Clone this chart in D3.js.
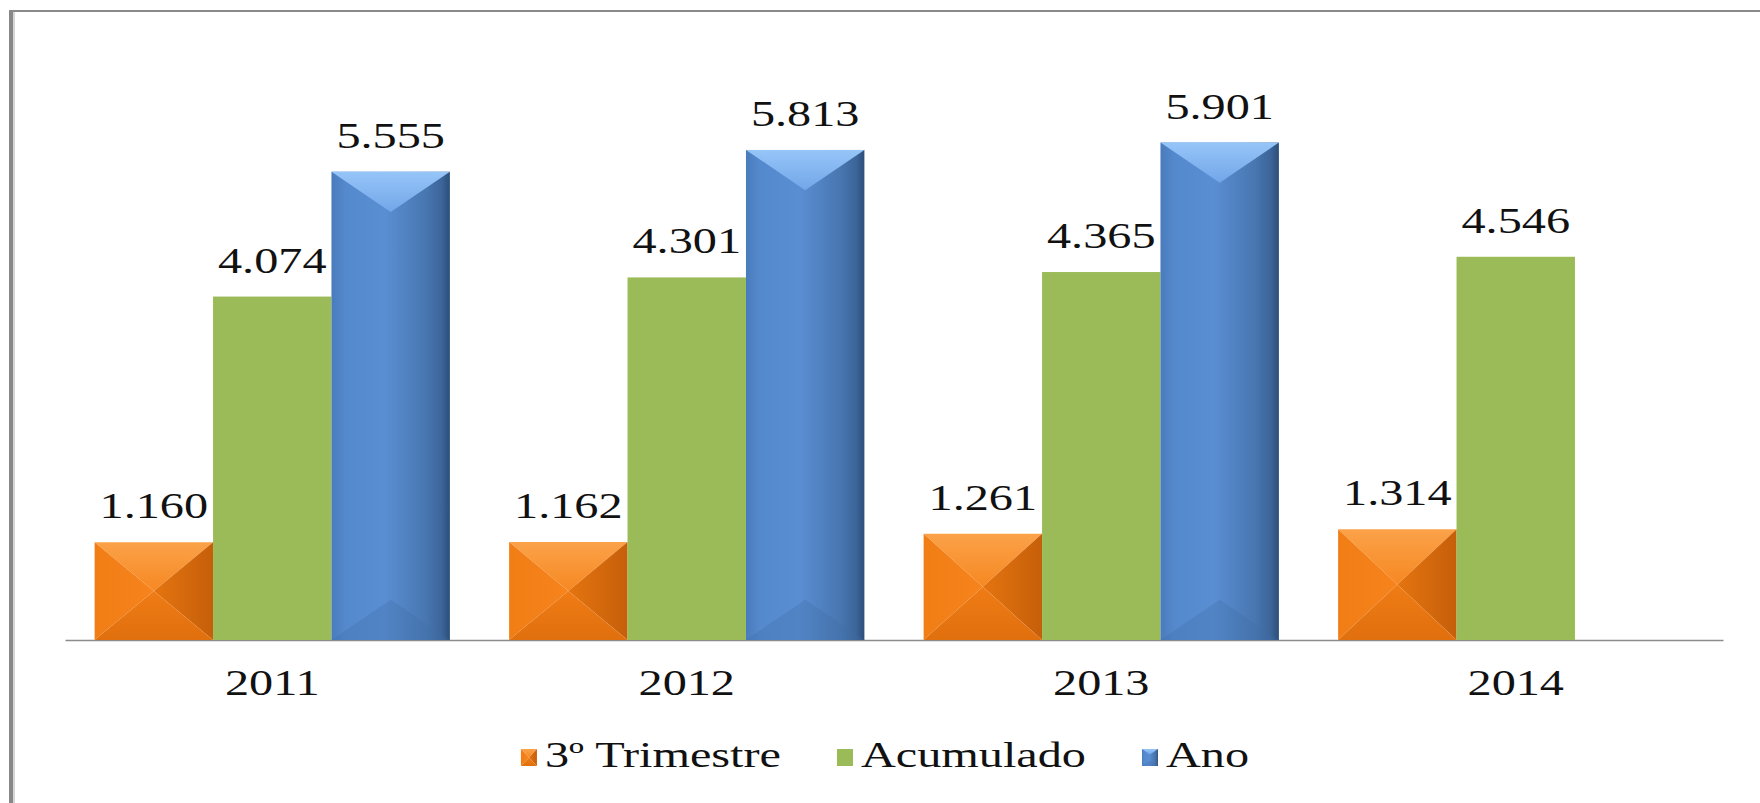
<!DOCTYPE html>
<html>
<head>
<meta charset="utf-8">
<script src="https://cdn.jsdelivr.net/npm/d3@7"></script>
<style>
  body { margin: 0; background: #fff; }
</style>
</head>
<body>
<div id="chart-area"></div>
<script>
// data
const years = ["2011", "2012", "2013", "2014"]
const seriesNames = ["3º Trimestre", "Acumulado", "Ano"]
const trimestre = [1.160, 1.162, 1.261, 1.314]
const acumulado = [4.074, 4.301, 4.365, 4.546]
const ano = [5.555, 5.813, 5.901, null]
const yDomain = [0, 7]

const WIDTH = 1760
const HEIGHT = 803
const BASE = 640
const FONT = "'Liberation Serif'"
const XSCALE = 1.34   // text in the original is stretched horizontally
const fmt = d3.format(".3f")

const svg = d3.select("#chart-area").append("svg")
	.attr("width", WIDTH)
	.attr("height", HEIGHT)

// frame (left + top edges only)
svg.append("rect").attr("x", 9).attr("y", 10).attr("width", 4).attr("height", HEIGHT).attr("fill", "#888")
svg.append("rect").attr("x", 13).attr("y", 10).attr("width", 2).attr("height", HEIGHT).attr("fill", "#d6d6d6")
svg.append("rect").attr("x", 9).attr("y", 10).attr("width", WIDTH).attr("height", 2).attr("fill", "#8a8a8a")

// gradients
const defs = svg.append("defs")
function grad(id, vertical, stops) {
	const lg = defs.append("linearGradient").attr("id", id)
		.attr("x1", 0).attr("y1", 0)
		.attr("x2", vertical ? 0 : 1).attr("y2", vertical ? 1 : 0)
	stops.forEach(s => lg.append("stop").attr("offset", s[0]).attr("stop-color", s[1]))
}
grad("blueBody", false, [[0, "#4a7cbc"], [0.12, "#5489cd"], [0.45, "#5a8ed3"], [0.8, "#4876b0"], [0.93, "#3c6599"], [1, "#2c4e7a"]])
grad("blueTop", true, [[0, "#96c5f8"], [1, "#72a6e8"]])
grad("orTop", true, [[0, "#fba249"], [1, "#f68822"]])
grad("orLeft", false, [[0, "#f17d15"], [1, "#f6831c"]])
grad("orRight", false, [[0, "#e4740f"], [1, "#c65f0a"]])
grad("orBottom", true, [[0, "#ef7c15"], [1, "#e06f0d"]])

// scales
const x0 = d3.scaleBand()
	.domain(years)
	.range([65, 1723])
const x1 = d3.scaleBand()
	.domain(seriesNames)
	.range([0, x0.bandwidth()])
	.paddingOuter(0.25)
const y = d3.scaleLinear()
	.domain(yDomain)
	.range([BASE, BASE - 7 * 84.3])

const rows = []
years.forEach((yr, i) => {
	[trimestre, acumulado, ano].forEach((arr, j) => {
		if (arr[i] != null) rows.push({ year: yr, series: seriesNames[j], value: arr[i] })
	})
})

// draws one bar with the bevel look of the original
function drawBar(g, bx, by, bw, bh, series) {
	if (series === "Acumulado") {
		g.append("rect").attr("x", bx).attr("y", by).attr("width", bw).attr("height", bh).attr("fill", "#9bbb59")
		return
	}
	if (series === "Ano") {
		const d = Math.min(bw * 0.34, bh / 2)
		g.append("rect").attr("x", bx).attr("y", by).attr("width", bw).attr("height", bh).attr("fill", "url(#blueBody)")
		g.append("polygon")
			.attr("points", [[bx, by], [bx + bw, by], [bx + bw / 2, by + d]].join(" "))
			.attr("fill", "url(#blueTop)")
		g.append("polygon")
			.attr("points", [[bx, by + bh], [bx + bw, by + bh], [bx + bw / 2, by + bh - d]].join(" "))
			.attr("fill", "#3f6da6").attr("opacity", 0.3)
		return
	}
	// orange pyramid: four triangles meeting in the centre
	const cx = bx + bw / 2, cy = by + bh / 2
	const tl = [bx, by], tr = [bx + bw, by], bl = [bx, by + bh], br = [bx + bw, by + bh], c = [cx, cy]
	g.append("polygon").attr("points", [tl, tr, c].join(" ")).attr("fill", "url(#orTop)")
	g.append("polygon").attr("points", [tl, bl, c].join(" ")).attr("fill", "url(#orLeft)")
	g.append("polygon").attr("points", [tr, br, c].join(" ")).attr("fill", "url(#orRight)")
	g.append("polygon").attr("points", [bl, br, c].join(" ")).attr("fill", "url(#orBottom)")
}

const g = svg.append("g")

// axis
const xAxisCall = d3.axisBottom(x0).tickSize(0).tickPadding(29)
const xAxis = g.append("g")
	.attr("transform", `translate(0, ${BASE})`)
	.call(xAxisCall)
	.attr("font-family", FONT)
xAxis.select(".domain").attr("stroke", "#8c8c8c").attr("stroke-width", 1.5)
xAxis.selectAll("text")
	.attr("font-size", "36px")
	.attr("font-family", FONT)
	.attr("fill", "#111")
	.attr("transform", `scale(${XSCALE},1)`)

// bars
rows.forEach(d => {
	const bx = x0(d.year) + x1(d.series)
	const bw = x1.bandwidth()
	drawBar(g, bx, y(d.value), bw, y(0) - y(d.value), d.series)
})

// value labels
g.selectAll(".val")
	.data(rows)
	.enter().append("text")
	.attr("class", "val")
	.attr("text-anchor", "middle")
	.attr("font-family", FONT)
	.attr("font-size", "36px")
	.attr("fill", "#111")
	.attr("transform", d => `translate(${x0(d.year) + x1(d.series) + x1.bandwidth() / 2}, ${y(d.value) - 24}) scale(${XSCALE},1)`)
	.text(d => fmt(d.value))

// legend
const legend = svg.append("g")
const MW = 16, MH = 17, GAP = 8, ITEM_GAP = 56
const items = seriesNames.map(name => {
	const it = legend.append("g")
	drawBar(it, 0, -MH - 1, MW, MH, name)
	const t = it.append("text")
		.attr("font-family", FONT)
		.attr("font-size", "36px")
		.attr("fill", "#111")
		.attr("transform", `translate(${MW + GAP}, 0) scale(${XSCALE},1)`)
		.text(name)
	return { g: it, w: MW + GAP + t.node().getComputedTextLength() * XSCALE }
})
const total = d3.sum(items, d => d.w) + ITEM_GAP * (items.length - 1)
let lx = 885 - total / 2
items.forEach(it => {
	it.g.attr("transform", `translate(${lx}, 767)`)
	lx += it.w + ITEM_GAP
})
</script>
</body>
</html>
